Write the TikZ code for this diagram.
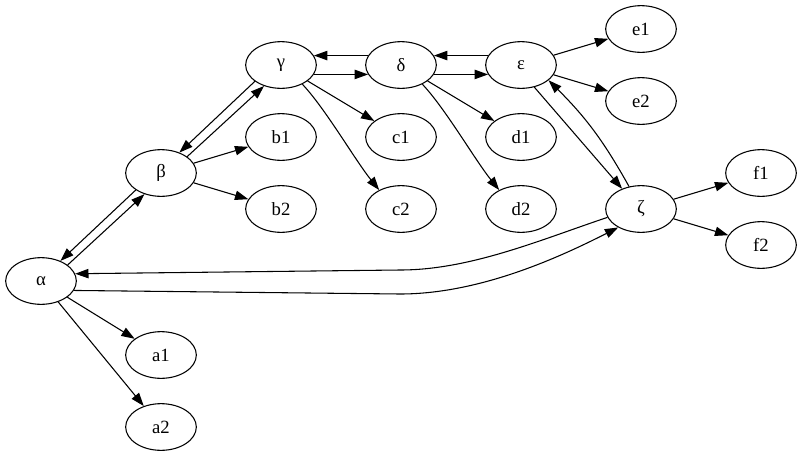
\documentclass[tikz,border=0pt]{standalone}
\usepackage{fontspec}
\setmainfont{Liberation Serif}
\usetikzlibrary{shapes.geometric,arrows.meta}
\begin{document}
\begin{tikzpicture}[x=0.75pt,y=-0.75pt,
  gnode/.style={draw, ellipse, minimum width=53pt, minimum height=35pt, inner sep=0pt, line width=0.8pt, font=\fontsize{14}{16}\selectfont},
  edge/.style={-{Triangle[length=10pt,width=7pt]}, line width=0.8pt}]
\useasboundingbox (0,0) rectangle (803,457);
\node[gnode] (nA) at (41,281) {α};
\node[gnode] (nB) at (161,173) {β};
\node[gnode] (nC) at (281,65) {γ};
\node[gnode] (nD) at (401,65) {δ};
\node[gnode] (nE) at (521,65) {ε};
\node[gnode] (nZ) at (641,209) {ζ};
\node[gnode] (e1) at (641,29) {e1};
\node[gnode] (e2) at (641,101) {e2};
\node[gnode] (b1) at (281,137) {b1};
\node[gnode] (b2) at (281,209) {b2};
\node[gnode] (c1) at (401,137) {c1};
\node[gnode] (c2) at (401,209) {c2};
\node[gnode] (d1) at (521,137) {d1};
\node[gnode] (d2) at (521,209) {d2};
\node[gnode] (f1) at (761,173) {f1};
\node[gnode] (f2) at (761,245) {f2};
\node[gnode] (a1) at (161,355) {a1};
\node[gnode] (a2) at (161,427) {a2};
% alpha <-> beta
\draw[edge] (nB.214) -- (nA.46.5);
\draw[edge] (nA.31) -- (nB.232);
% beta <-> gamma
\draw[edge] (nC.212) -- (nB.48);
\draw[edge] (nB.32) -- (nC.231);
\draw[edge] (nB) -- (b1);
\draw[edge] (nB) -- (b2);
% gamma <-> delta
\draw[edge] (nC.-16) -- (nD.196);
\draw[edge] (nD.164) -- (nC.16);
% delta <-> epsilon
\draw[edge] (nD.-16) -- (nE.196);
\draw[edge] (nE.164) -- (nD.16);
\draw[edge] (nC) -- (c1);
\draw[edge] (nC.-42) .. controls (325,108) and (355,160) .. (c2.139);
\draw[edge] (nD) -- (d1);
\draw[edge] (nD.-42) .. controls (445,108) and (475,160) .. (d2.139);
\draw[edge] (nE) -- (e1);
\draw[edge] (nE) -- (e2);
% epsilon <-> zeta
\draw[edge] (nE.-59) -- (nZ.133);
\draw[edge] (nZ.118) to[bend right=8] (nE.-29);
\draw[edge] (nZ) -- (f1);
\draw[edge] (nZ) -- (f2);
% zeta <-> alpha
\draw[edge] (nZ.194) .. controls (540,240) and (470,270) .. (400,270) -- (nA.12);
\draw[edge] (nA.-16) -- (400,294) .. controls (480,294) and (560,257) .. (nZ.219.6);
\draw[edge] (nA) -- (a1);
\draw[edge] (nA) -- (a2);
\end{tikzpicture}
\end{document}
